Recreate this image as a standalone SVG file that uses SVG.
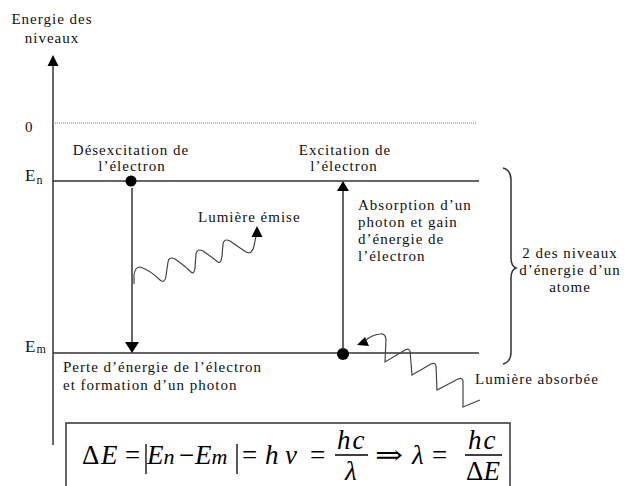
<svg xmlns="http://www.w3.org/2000/svg" width="637" height="486" viewBox="0 0 637 486">
<style>
.t{font-family:"Liberation Serif","Times New Roman",serif;font-size:15px;letter-spacing:1px;fill:#111}
.ln{stroke:#333;stroke-width:1.5;fill:none}
.wave{stroke:#444;stroke-width:1.2;fill:none}
.ah{fill:#000}
.m{font-family:"Liberation Serif","Times New Roman",serif;font-size:27px;fill:#000}
.mi{font-style:italic}
</style>
<rect width="637" height="486" fill="#fff"/>
<g id="axis">
<line class="ln" x1="53" y1="64" x2="53" y2="445"/>
<polygon class="ah" points="53,55 47.5,66 58.5,66"/>
<text class="t" x="52" y="24" text-anchor="middle">Energie des</text>
<text class="t" x="52" y="43" text-anchor="middle">niveaux</text>
</g>
<g id="level-0">
<line x1="55" y1="123" x2="476" y2="123" stroke="#777" stroke-width="1" stroke-dasharray="1,1"/>
<text class="t" x="25" y="132">0</text>
</g>
<g id="level-En">
<line class="ln" x1="53" y1="181" x2="479" y2="181"/>
<text class="t" x="25" y="181" style="font-size:17px">E<tspan style="font-size:12px" dy="3">n</tspan></text>
</g>
<g id="level-Em">
<line class="ln" x1="53" y1="353" x2="479" y2="353"/>
<text class="t" x="25" y="352" style="font-size:17px">E<tspan style="font-size:12px" dy="1">m</tspan></text>
</g>
<g id="desexcitation">
<circle cx="131" cy="181" r="5.5" fill="#000"/>
<text class="t" x="131" y="155" text-anchor="middle">Désexcitation de</text>
<text class="t" x="132" y="171" text-anchor="middle">l’électron</text>
<text class="t" x="63" y="372">Perte d’énergie de l’électron</text>
<text class="t" x="63" y="390">et formation d’un photon</text>
</g>
<g id="excitation">
<circle cx="343" cy="354" r="6" fill="#000"/>
<text class="t" x="345" y="155" text-anchor="middle">Excitation de</text>
<text class="t" x="344" y="171" text-anchor="middle">l’électron</text>
<text class="t" x="358" y="210">Absorption d’un</text>
<text class="t" x="358" y="227">photon et gain</text>
<text class="t" x="358" y="244">d’énergie de</text>
<text class="t" x="358" y="261">l’électron</text>
</g>
<g id="emitted-light">
<text class="t" x="198" y="222">Lumière émise</text>
</g>
<g id="absorbed-light">
<text class="t" x="475" y="384">Lumière absorbée</text>
</g>
<g id="brace">
<path class="ln" d="M503,168 Q511,170 511,180 L511,258 Q511,266 516,268 Q511,270 511,278 L511,352 Q511,362 503,364"/>
<text class="t" x="570" y="258" text-anchor="middle">2 des niveaux</text>
<text class="t" x="570" y="275" text-anchor="middle">d’énergie d’un</text>
<text class="t" x="570" y="292" text-anchor="middle">atome</text>
</g>
<g id="connectors">
<line class="ln" x1="132" y1="188" x2="132" y2="344"/>
<polygon class="ah" points="125,342 139,342 132,353"/>
<line class="ln" x1="343" y1="190" x2="343" y2="350"/>
<polygon class="ah" points="337,191 349,191 343,181"/>
<path class="wave" d="M134,284 L134,275 Q135,267 140,267 Q150,270 160,280 Q165,284 166,276 L168,262 Q169,256 175,259 Q185,266 191,272 Q194,275 195,268 L196,254 Q197,248 203,251 Q213,258 218,262 Q221,264 222,256 L223,244 Q224,238 230,241 Q240,248 246,252 Q252,255 254,246 L256,236"/>
<polygon class="ah" points="257,226 251.5,237 262.5,237"/>
<path class="wave" d="M480,400 Q470,404 463,407 L463,381 Q462,377 458,379 L437,390 L436,366 Q435,362 431,364 L412,375 L410,351 Q409,348 405,350 L385,362 L386,339 Q385,333 380,334 Q372,335 366,340"/>
<polygon class="ah" points="357,345 365,337 369,346"/>
</g>
<g id="formula">
<rect x="66" y="423" width="444" height="80" fill="none" stroke="#333" stroke-width="1.5"/>
<text class="m" x="82" y="464">Δ<tspan class="mi" x="101">E</tspan></text>
<text class="m" x="125" y="464">=</text>
<line x1="146" y1="444" x2="146" y2="474" stroke="#000" stroke-width="1.3"/>
<text class="m mi" x="147" y="464">E<tspan style="font-size:22px">n</tspan></text>
<text class="m" x="179" y="464">−</text>
<text class="m mi" x="195" y="464">E<tspan style="font-size:22px">m</tspan></text>
<line x1="237" y1="444" x2="237" y2="474" stroke="#000" stroke-width="1.3"/>
<text class="m" x="242" y="464">=</text>
<text class="m mi" x="265" y="464">h</text>
<text class="m mi" x="285" y="464">ν</text>
<text class="m" x="310" y="464">=</text>
<text class="m mi" x="337" y="449" letter-spacing="2">hc</text>
<line x1="335" y1="455" x2="368" y2="455" stroke="#000" stroke-width="1.3"/>
<text class="m mi" x="345" y="480">λ</text>
<text class="m" x="375" y="464" textLength="28" lengthAdjust="spacingAndGlyphs" style="font-family:'DejaVu Serif',serif">⇒</text>
<text class="m mi" x="412" y="464">λ</text>
<text class="m" x="432" y="464">=</text>
<text class="m mi" x="468" y="449" letter-spacing="2">hc</text>
<line x1="465" y1="455" x2="502" y2="455" stroke="#000" stroke-width="1.3"/>
<text class="m" x="466" y="480">Δ<tspan class="mi">E</tspan></text>
</g>
</svg>
